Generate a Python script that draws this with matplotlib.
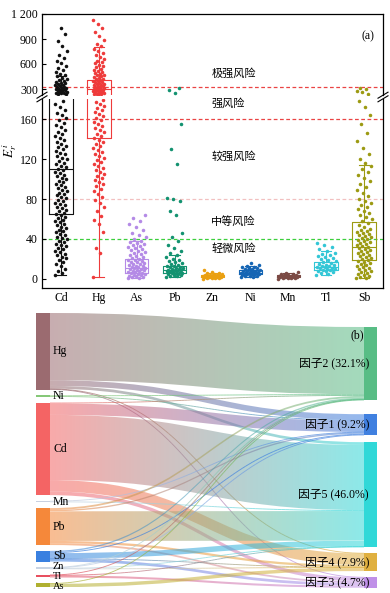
import numpy as np
import matplotlib
matplotlib.use('Agg')
import matplotlib.pyplot as plt
from matplotlib.path import Path
from matplotlib.patches import PathPatch, Rectangle
from matplotlib.lines import Line2D
from matplotlib.collections import LineCollection
import matplotlib.colors as mcolors

plt.rcParams['font.family'] = ['Liberation Serif', 'Noto Sans CJK SC']
plt.rcParams['mathtext.fontset'] = 'stix'

# ---------------- data: panel (a) ----------------
elements = ['Cd', 'Hg', 'As', 'Pb', 'Zn', 'Ni', 'Mn', 'Tl', 'Sb']

cd_vals = [4, 6, 8, 10, 13, 15, 17, 19, 21, 22, 24, 25, 27, 28, 30, 31, 33, 34, 35, 37, 38, 40, 41, 42,
           44, 45, 47, 48, 49, 51, 52, 54, 55, 57, 58, 59, 61, 62, 64, 65, 66, 68, 69, 71, 72, 74, 75, 76,
           78, 79, 81, 82, 84, 85, 86, 88, 89, 91, 92, 94, 95, 97, 98, 100, 101, 103, 104, 106, 107, 109,
           110, 112, 113, 115, 116, 118, 120, 121, 123, 125, 126, 128, 130, 132, 133, 135, 137, 139, 141,
           143, 145, 147, 149, 152, 154, 156, 159, 161, 164, 166, 169, 172, 175, 178,
           236, 241, 247, 252, 258, 263, 268, 274, 279, 284, 290, 295, 300, 306, 312, 318, 324, 330, 337,
           344, 351, 359, 367, 376, 386, 397, 409, 422, 436, 451, 468, 486, 506, 528, 552, 578, 606, 638,
           672, 712, 760, 815, 880, 960, 1035]
hg_vals = [2, 26, 31, 47, 55, 59, 63, 68, 72, 76, 79, 82, 85, 88, 90, 93, 95, 97, 99, 101, 103, 105, 107,
           109, 111, 113, 115, 117, 119, 121, 123, 125, 127, 129, 131, 133, 135, 137, 139, 141, 143, 145,
           147, 149, 151, 153, 155, 157, 159, 161, 163, 165, 167, 169, 171, 173, 175, 177, 179,
           231, 236, 241, 246, 251, 256, 261, 266, 271, 276, 281, 286, 291, 296, 301, 306, 311, 316, 322,
           328, 334, 340, 346, 352, 358, 365, 372, 379, 386, 393, 401, 409, 417, 426, 435, 444, 454, 464,
           474, 485, 496, 508, 520, 533, 546, 560, 575, 590, 606, 623, 641, 660, 680, 702, 726, 752, 780,
           810, 845, 890, 940, 985, 1030, 1080, 1130]
as_vals = [0.5, 1, 1.5, 2, 2.5, 3, 3.5, 4, 4.5, 5, 5.5, 6, 6.5, 7, 7.5, 8, 8.5, 9, 9.5, 10, 10.5, 11,
           11.5, 12, 12.5, 13, 14, 14.5, 15, 16, 16.5, 17, 18, 18.5, 19, 20, 21, 22, 23, 24, 25, 26, 27,
           28, 29, 30, 31, 32, 33, 34, 35, 36, 37, 38, 40, 42, 44, 46, 49, 52, 55, 58, 61, 64]
pb_vals = [2, 2.5, 3, 3.5, 4, 4.5, 5, 5.5, 6, 6.3, 6.6, 7, 7.3, 7.6, 8, 8.3, 8.6, 9, 9.3, 9.6, 10, 10.5,
           11, 11.5, 12, 12.5, 13, 14, 15, 16, 17, 18, 19, 20, 22, 24, 26, 28, 31, 34, 38, 42, 46, 64, 68,
           78, 80, 81, 115, 130, 155, 258, 285, 318]
zn_vals = [0.3, 0.6, 0.9, 1.1, 1.3, 1.5, 1.7, 1.9, 2.0, 2.2, 2.4, 2.5, 2.7, 2.9, 3.0, 3.2, 3.4, 3.6, 3.8,
           4.0, 4.3, 4.6, 5.0, 5.5, 6.2, 7.0, 8.5]
ni_vals = [1.5, 2, 2.5, 3, 3.4, 3.8, 4.2, 4.5, 4.8, 5.1, 5.4, 5.7, 6, 6.3, 6.6, 6.9, 7.2, 7.5, 7.8, 8.1,
           8.5, 9, 9.5, 10, 10.5, 11, 11.5, 12, 13, 14, 15.5]
mn_vals = [0.3, 0.6, 0.9, 1.2, 1.4, 1.6, 1.8, 2.0, 2.2, 2.4, 2.6, 2.8, 3.0, 3.2, 3.4, 3.7, 4.0, 4.4, 4.8,
           5.3, 6.0, 7.0]
tl_vals = [4, 5, 6, 7, 7.5, 8, 8.5, 9, 9.5, 10, 10.5, 11, 11.5, 12, 12.5, 13, 13.5, 14, 15, 16, 17, 18,
           19, 20, 21, 22, 23, 24, 25, 26, 28, 30, 32, 34, 36]
sb_vals = [0.5, 1, 2, 3, 4, 5, 6, 7, 8, 9, 10, 11, 12, 13, 14, 15, 16, 17, 18, 19, 20, 21, 22, 23, 24, 25,
           26, 27, 28, 29, 30, 31, 32, 33, 34, 35, 36, 37, 38, 39, 40, 41, 42, 43, 44, 45, 46, 47, 48, 49,
           50, 52, 54, 56, 58, 60, 62, 64, 66, 68, 70, 72, 74, 76, 78, 80, 83, 86, 89, 92, 95, 98, 101,
           104, 107, 110, 113, 116, 120, 125, 131, 138, 146, 155, 164, 172, 178, 245, 262, 280, 300, 318]

box_q1 = [65, 141, 6, 6, 1.5, 4.5, 1.5, 9, 19]
box_med = [110, 300, 11, 9, 2.5, 6, 2.5, 12, 32]
box_q3 = [215, 410, 20, 13, 3.5, 8.5, 3.5, 17, 57]
box_lo = [4, 2, 0.5, 2, 0.5, 2, 0.5, 4, 0.5]
box_hi = [460, 800, 38, 24, 6, 13, 6, 28, 114]

risk_levels = [40, 80, 160, 320]
risk_labels = ['轻微风险', '中等风险', '较强风险', '强风险', '极强风险']
risk_label_vals = [30, 58, 122, 175, 490]

# ---------------- data: panel (b) ----------------
sources = ['Hg', 'Ni', 'Cd', 'Mn', 'Pb', 'Sb', 'Zn', 'Tl', 'As']
factors = ['因子2 (32.1%)', '因子1 (9.2%)', '因子5 (46.0%)', '因子4 (7.9%)', '因子3 (4.7%)']
# columns follow factor order above
flow_hg = [29.5, 2.5, 1.2, 0.2, 0.2]
flow_ni = [0.3, 0.3, 0.0, 0.0, 0.0]
flow_cd = [0.4, 5.0, 28.6, 5.0, 1.6]
flow_mn = [0.0, 0.2, 0.4, 0.0, 0.0]
flow_pb = [0.8, 0.6, 13.0, 1.0, 0.8]
flow_sb = [0.6, 0.4, 2.4, 0.1, 1.2]
flow_zn = [0.1, 0.2, 0.3, 0.1, 0.0]
flow_tl = [0.2, 0.0, 0.1, 0.0, 0.9]
flow_as = [0.2, 0.0, 0.0, 1.5, 0.0]

# ---------------- styles ----------------
elem_colors = ['#111111', '#ee3b3b', '#b48ae6', '#139270', '#eaa012', '#1565b4', '#7b4a44', '#33c6d6', '#9c9a12']
jitter_w = [0.16, 0.15, 0.24, 0.22, 0.26, 0.26, 0.26, 0.26, 0.2]
src_colors = ['#9b6b70', '#86c878', '#f46464', '#c8d0e0', '#f5883a', '#3a80e0', '#c8d4e4', '#e85060', '#b0b030']
fac_colors = ['#58bd85', '#4080e0', '#30d8d8', '#e0b040', '#c090e8']
label_nudge = [0, 0, 0, 0, 0, 0, -1.5, 0, 1.5]
label_size = [8.5, 8.5, 8.5, 8.5, 8.5, 8.5, 7.5, 7.5, 7.5]

all_vals = [cd_vals, hg_vals, as_vals, pb_vals, zn_vals, ni_vals, mn_vals, tl_vals, sb_vals]
flows = np.array([flow_hg, flow_ni, flow_cd, flow_mn, flow_pb, flow_sb, flow_zn, flow_tl, flow_as])

W, H = 390, 593
fig = plt.figure(figsize=(W / 100, H / 100), dpi=100)

def fx(px):
    return px / W

def fy(py):
    return 1 - py / H

axL, axR = 42, 383
ax_top = fig.add_axes([fx(axL), fy(95), fx(axR - axL), (95 - 14) / H])
ax_bot = fig.add_axes([fx(axL), fy(288), fx(axR - axL), (288 - 99) / H])

positions = np.arange(1, len(elements) + 1)
golden = 0.6180339887
stats = []
for i, e in enumerate(elements):
    stats.append(dict(q1=box_q1[i], med=box_med[i], q3=box_q3[i], whislo=box_lo[i], whishi=box_hi[i], label=e))

for ax in (ax_top, ax_bot):
    for i, vals in enumerate(all_vals):
        v = np.array(vals, dtype=float)
        n = len(v)
        off = ((np.arange(n) * golden) % 1 - 0.5) * 2 * jitter_w[i]
        ax.scatter(positions[i] + off, v, s=6.5, color=elem_colors[i], lw=0, zorder=2)
        ax.bxp([stats[i]], positions=[positions[i]], widths=0.62, showfliers=False, capwidths=0.28,
               patch_artist=False,
               boxprops=dict(color=elem_colors[i], lw=0.8),
               medianprops=dict(color=elem_colors[i], lw=0.8),
               whiskerprops=dict(color=elem_colors[i], lw=0.8),
               capprops=dict(color=elem_colors[i], lw=0.8), zorder=3)
    ax.set_xlim(0.5, len(elements) + 0.5)
    ax.tick_params(axis='y', direction='in', length=3, labelsize=8.5, pad=3)
    ax.tick_params(axis='x', length=0, labelsize=8.5, pad=3)
    for s in ax.spines.values():
        s.set_linewidth(0.9)

ax_top.set_ylim(228, 1200)
ax_top.set_yticks([300, 600, 900, 1200])
ax_top.set_yticklabels(['300', '600', '900', '1 200'])
ax_top.set_xticks([])
ax_top.spines['bottom'].set_visible(False)

ax_bot.set_ylim(-9, 180)
ax_bot.set_yticks([0, 40, 80, 120, 160])
ax_bot.set_xticks(positions)
ax_bot.set_xticklabels(elements)
ax_bot.spines['top'].set_visible(False)

risk_colors = ['#3ccf3c', '#f2c0c0', '#ea4444', '#ea4444']
for lvl, c in zip(risk_levels, risk_colors):
    for ax in (ax_top, ax_bot):
        ax.axhline(lvl, color=c, lw=0.9, ls=(0, (3, 2)), zorder=1)

for lab, v in zip(risk_labels, risk_label_vals):
    ax = ax_top if v > 200 else ax_bot
    ax.text(4.97, v, lab, fontsize=8, va='center', ha='left', family=['Noto Sans CJK SC'], zorder=4)

ax_top.text(0.955, 0.72, '(a)', transform=ax_top.transAxes, fontsize=8.5, ha='center', va='center')

# break marks
for xp in (axL, axR):
    for dy in (-1.8, 1.8):
        fig.add_artist(Line2D([fx(xp - 5), fx(xp + 5)], [fy(97 + dy + 3), fy(97 + dy - 3)],
                              color='black', lw=0.8))

fig.text(fx(10), fy(150), '$E_r^{\\,i}$', rotation=90, fontsize=9.5, ha='center', va='center')

# ---------------- panel (b): sankey ----------------
axs = fig.add_axes([0, 0, 1, (H - 300) / H])
axs.set_axis_off()

k = 2.28
xl0, xl1 = 36, 50
xr0, xr1 = 364, 377
left_top = 313
left_gap = 5.8
right_top = 327
right_gaps = [14, 7, 6, 6]
alpha_flow = 0.55

src_tot = flows.sum(axis=1)
fac_tot = flows.sum(axis=0)

src_y = []
y = left_top
for t in src_tot:
    src_y.append(y)
    y += t * k + left_gap
fac_y = []
y = right_top
for j, t in enumerate(fac_tot):
    fac_y.append(y)
    y += t * k + (right_gaps[j] if j < len(right_gaps) else 0)


def bez(p0, p1, p2, p3, t):
    return ((1 - t) ** 3)[:, None] * p0 + (3 * (1 - t) ** 2 * t)[:, None] * p1 + \
           (3 * (1 - t) * t ** 2)[:, None] * p2 + (t ** 3)[:, None] * p3


def draw_flow(ys0, ys1, yt0, yt1, c0, c1):
    x0, x1 = xl1, xr0
    xm = (x0 + x1) / 2
    ca = np.array(mcolors.to_rgb(c0))
    cb = np.array(mcolors.to_rgb(c1))
    thick = ys1 - ys0
    if thick < 1.3:
        t = np.linspace(0, 1, 80)
        ymid0 = (ys0 + ys1) / 2
        ymid1 = (yt0 + yt1) / 2
        pts = bez(np.array([x0, ymid0]), np.array([xm, ymid0]), np.array([xm, ymid1]),
                  np.array([x1, ymid1]), t)
        segs = np.stack([pts[:-1], pts[1:]], axis=1)
        tm = (t[:-1] + t[1:]) / 2
        cols = [tuple(ca * (1 - u) + cb * u) + (0.7,) for u in tm]
        lc = LineCollection(segs, colors=cols, linewidths=max(thick, 0.9) * 0.72, zorder=1)
        axs.add_collection(lc)
        return
    verts = [(x0, ys0), (xm, ys0), (xm, yt0), (x1, yt0), (x1, yt1), (xm, yt1), (xm, ys1), (x0, ys1), (x0, ys0)]
    codes = [Path.MOVETO, Path.CURVE4, Path.CURVE4, Path.CURVE4, Path.LINETO,
             Path.CURVE4, Path.CURVE4, Path.CURVE4, Path.CLOSEPOLY]
    patch = PathPatch(Path(verts, codes), facecolor='none', edgecolor='none')
    axs.add_patch(patch)
    tt = np.linspace(0, 1, 256)[:, None]
    rgb = ca * (1 - tt) + cb * tt
    img = np.concatenate([rgb, np.full((256, 1), alpha_flow)], axis=1)[None, :, :]
    ymin = min(ys0, yt0)
    ymax = max(ys1, yt1)
    im = axs.imshow(img, extent=[x0, x1, ymax, ymin], aspect='auto', interpolation='bilinear', zorder=1)
    im.set_clip_path(patch)


out_start = {}
for i in range(len(sources)):
    yc = src_y[i]
    for j in range(len(factors)):
        out_start[(i, j)] = yc
        yc += flows[i, j] * k
in_start = {}
for j in range(len(factors)):
    yc = fac_y[j]
    for i in range(len(sources)):
        in_start[(i, j)] = yc
        yc += flows[i, j] * k

for i in range(len(sources)):
    for j in range(len(factors)):
        v = flows[i, j]
        if v <= 0:
            continue
        ys0 = out_start[(i, j)]
        yt0 = in_start[(i, j)]
        draw_flow(ys0, ys0 + v * k, yt0, yt0 + v * k, src_colors[i], fac_colors[j])

for i, s in enumerate(sources):
    h = max(src_tot[i] * k, 1.2)
    axs.add_patch(Rectangle((xl0, src_y[i]), xl1 - xl0, h, facecolor=src_colors[i], edgecolor='none', zorder=3))
    axs.text(xl1 + 3, src_y[i] + src_tot[i] * k / 2 + label_nudge[i], s, fontsize=label_size[i],
             ha='left', va='center', zorder=4)

for j, f in enumerate(factors):
    h = fac_tot[j] * k
    axs.add_patch(Rectangle((xr0, fac_y[j]), xr1 - xr0, h, facecolor=fac_colors[j], edgecolor='none', zorder=3))
    axs.text(xr0 + 5, fac_y[j] + h / 2, f, fontsize=8.5, ha='right', va='center', zorder=4)

axs.text(357, 335, '(b)', fontsize=8.5, ha='center', va='center', zorder=4)

axs.set_xlim(0, W)
axs.set_ylim(H, 300)

fig.savefig('out.png', dpi=100)
